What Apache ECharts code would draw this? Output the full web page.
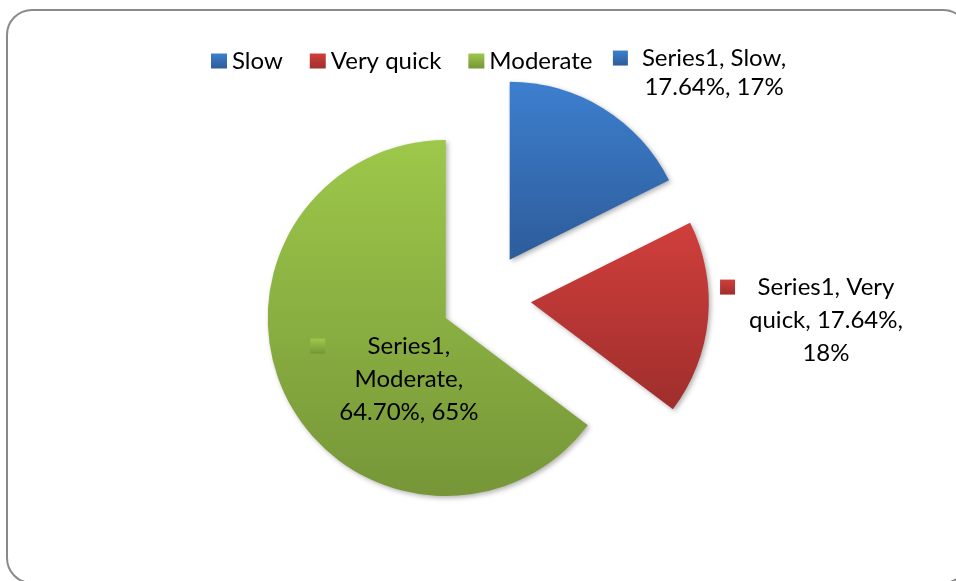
<!DOCTYPE html>
<html>
<head>
<meta charset="utf-8">
<script src="https://cdn.jsdelivr.net/npm/echarts@6/dist/echarts.min.js"></script>
<style>
html,body{margin:0;padding:0;background:#fff;}
#chart{width:956px;height:581px;}
</style>
</head>
<body>
<div id="chart"></div>
<script>
const seriesName = 'Series1';
const categories = ['Slow', 'Very quick', 'Moderate'];
const values = [17.64, 17.64, 64.70];
const roundedPct = [17, 18, 65];

const topColors = ['#3d7fcf', '#d03f3c', '#9dc84a'];
const bottomColors = ['#2d5c99', '#9f2e2c', '#769638'];
const wrapChars = [14, 14, 11];
const lineHeights = [29, 33, 33];

function grad(i) {
  return new echarts.graphic.LinearGradient(0, 0, 0, 1, [
    { offset: 0, color: topColors[i] },
    { offset: 1, color: bottomColors[i] }
  ]);
}

function wrapWords(text, limit) {
  const words = text.split(' ');
  const lines = [];
  let cur = '';
  words.forEach(w => {
    if (!cur) cur = w;
    else if ((cur + ' ' + w).length <= limit) cur += ' ' + w;
    else { lines.push(cur); cur = w; }
  });
  if (cur) lines.push(cur);
  return lines;
}

const rich = {
  gap: { width: 14, align: 'left' },
  pad: { width: 29, align: 'left' }
};
categories.forEach((c, i) => {
  rich['sq' + i] = { width: 15, height: 15, backgroundColor: grad(i), align: 'left' };
  rich['t' + i] = { fontFamily: 'Lato', fontSize: 24, color: '#000', align: 'center', lineHeight: lineHeights[i] };
});

const labelPos = [
  { position: 'outside', padding: [0, 0, 70, 0] },
  { position: 'outside', padding: [3, 0, 0, 0] },
  { position: 'inside', padding: [40, 0, 0, 62] }
];
const lineLens = [[1, 4], [1, 6], [1, 0]];

const data = categories.map((c, i) => ({
  name: c,
  value: values[i],
  selected: true,
  itemStyle: { color: grad(i) },
  label: Object.assign({ show: true }, labelPos[i]),
  labelLine: { show: false, length: lineLens[i][0], length2: lineLens[i][1] }
}));

const chart = echarts.init(document.getElementById('chart'), null, { renderer: 'canvas' });
chart.setOption({
  animation: false,
  backgroundColor: '#fff',
  graphic: [{
    type: 'rect',
    shape: { x: 7, y: 10, width: 961, height: 573, r: 25 },
    style: { fill: 'none', stroke: '#8a8a8a', lineWidth: 2 },
    silent: true
  }],
  legend: {
    left: 211,
    top: 49,
    padding: 0,
    icon: 'rect',
    itemWidth: 16,
    itemHeight: 15,
    itemGap: 27,
    textStyle: { fontFamily: 'Lato', fontSize: 24, color: '#000' },
    data: categories
  },
  series: [{
    name: seriesName,
    type: 'pie',
    center: [486, 298],
    radius: 178,
    startAngle: 90,
    clockwise: true,
    selectedMode: 'multiple',
    selectedOffset: 45,
    avoidLabelOverlap: false,
    itemStyle: {
      shadowBlur: 5,
      shadowOffsetX: 2,
      shadowOffsetY: 2,
      shadowColor: 'rgba(0,0,0,0.3)'
    },
    select: { itemStyle: { borderWidth: 0 } },
    emphasis: { disabled: true },
    label: {
      fontFamily: 'Lato',
      fontSize: 24,
      color: '#000',
      rich: rich,
      formatter: function (p) {
        const i = p.dataIndex;
        const full = seriesName + ', ' + p.name + ', ' + values[i].toFixed(2) + '%, ' + roundedPct[i] + '%';
        const lines = wrapWords(full, wrapChars[i]);
        return lines.map((l, k) => (k === 0 ? '{sq' + i + '|}{gap|}' : '{pad|}') + '{t' + i + '|' + l + '}').join('\n');
      }
    },
    data: data
  }]
});
</script>
</body>
</html>
